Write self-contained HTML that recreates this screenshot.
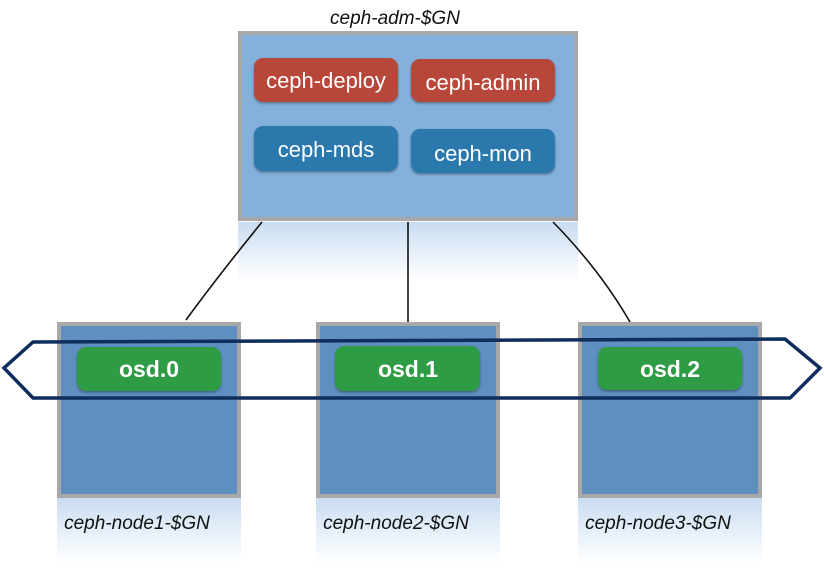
<!DOCTYPE html>
<html><head><meta charset="utf-8"><style>
html,body{margin:0;padding:0;background:#fff;width:824px;height:571px;overflow:hidden}
svg text{font-family:"Liberation Sans",sans-serif}
</style></head><body>
<svg width="824" height="571" viewBox="0 0 824 571" xmlns="http://www.w3.org/2000/svg">
<defs>
<linearGradient id="refl" x1="0" y1="0" x2="0" y2="1">
<stop offset="0" stop-color="#c9dcf0"/><stop offset="0.5" stop-color="#e6eff9"/><stop offset="1" stop-color="#ffffff"/>
</linearGradient>
<filter id="sh" x="-10%" y="-10%" width="120%" height="130%"><feDropShadow dx="0" dy="1.5" stdDeviation="1.2" flood-color="#000" flood-opacity="0.35"/></filter>
</defs>
<rect x="238" y="222" width="340" height="60" fill="url(#refl)"/>
<rect x="57" y="498" width="184" height="66" fill="url(#refl)"/>
<rect x="316" y="498" width="184" height="66" fill="url(#refl)"/>
<rect x="578" y="498" width="184" height="66" fill="url(#refl)"/>
<text x="395" y="24" font-size="19" font-style="italic" text-anchor="middle" fill="#111">ceph-adm-$GN</text>
<rect x="238" y="31" width="340" height="190" fill="#a8a8a8"/>
<rect x="242" y="35" width="332" height="182" fill="#84b0dc"/>
<rect x="254" y="58" width="144" height="44" rx="9" fill="#b8473a" filter="url(#sh)"/>
<rect x="411" y="59" width="144" height="43" rx="9" fill="#b8473a" filter="url(#sh)"/>
<rect x="254" y="126" width="144" height="45" rx="9" fill="#2c78ac" filter="url(#sh)"/>
<rect x="411" y="129" width="144" height="44" rx="9" fill="#2c78ac" filter="url(#sh)"/>
<text x="326" y="88" font-size="22" text-anchor="middle" fill="#fff">ceph-deploy</text>
<text x="483" y="90" font-size="22" text-anchor="middle" fill="#fff">ceph-admin</text>
<text x="326" y="157" font-size="22" text-anchor="middle" fill="#fff">ceph-mds</text>
<text x="483" y="161" font-size="22" text-anchor="middle" fill="#fff">ceph-mon</text>
<path d="M262 222 Q215 280 186 320" fill="none" stroke="#111" stroke-width="1.6"/>
<path d="M408 222 L408 322" fill="none" stroke="#111" stroke-width="1.6"/>
<path d="M553 222 Q600 270 630 322" fill="none" stroke="#111" stroke-width="1.6"/>
<g>
<rect x="57" y="322" width="184" height="176" fill="#a8a8a8"/><rect x="61" y="326" width="176" height="168" fill="#5f8fc0"/>
<rect x="316" y="322" width="184" height="176" fill="#a8a8a8"/><rect x="320" y="326" width="176" height="168" fill="#5f8fc0"/>
<rect x="578" y="322" width="184" height="176" fill="#a8a8a8"/><rect x="582" y="326" width="176" height="168" fill="#5f8fc0"/>
</g>
<rect x="77" y="347" width="144" height="44" rx="9" fill="#2f9b45" filter="url(#sh)"/>
<rect x="335" y="346" width="145" height="45" rx="9" fill="#2f9b45" filter="url(#sh)"/>
<rect x="598" y="347" width="144" height="43" rx="9" fill="#2f9b45" filter="url(#sh)"/>
<text x="149" y="377" font-size="23" font-weight="bold" text-anchor="middle" fill="#fff">osd.0</text>
<text x="408" y="377" font-size="23" font-weight="bold" text-anchor="middle" fill="#fff">osd.1</text>
<text x="670" y="377" font-size="23" font-weight="bold" text-anchor="middle" fill="#fff">osd.2</text>
<path d="M33 342 L785 339 L820 368 L790 398 L33 398 L4 368 Z" fill="none" stroke="#0f2d5c" stroke-width="3.5" stroke-linejoin="miter"/>
<text x="137" y="529" font-size="19" font-style="italic" text-anchor="middle" fill="#111">ceph-node1-$GN</text>
<text x="396" y="529" font-size="19" font-style="italic" text-anchor="middle" fill="#111">ceph-node2-$GN</text>
<text x="658" y="529" font-size="19" font-style="italic" text-anchor="middle" fill="#111">ceph-node3-$GN</text>
</svg>
</body></html>
